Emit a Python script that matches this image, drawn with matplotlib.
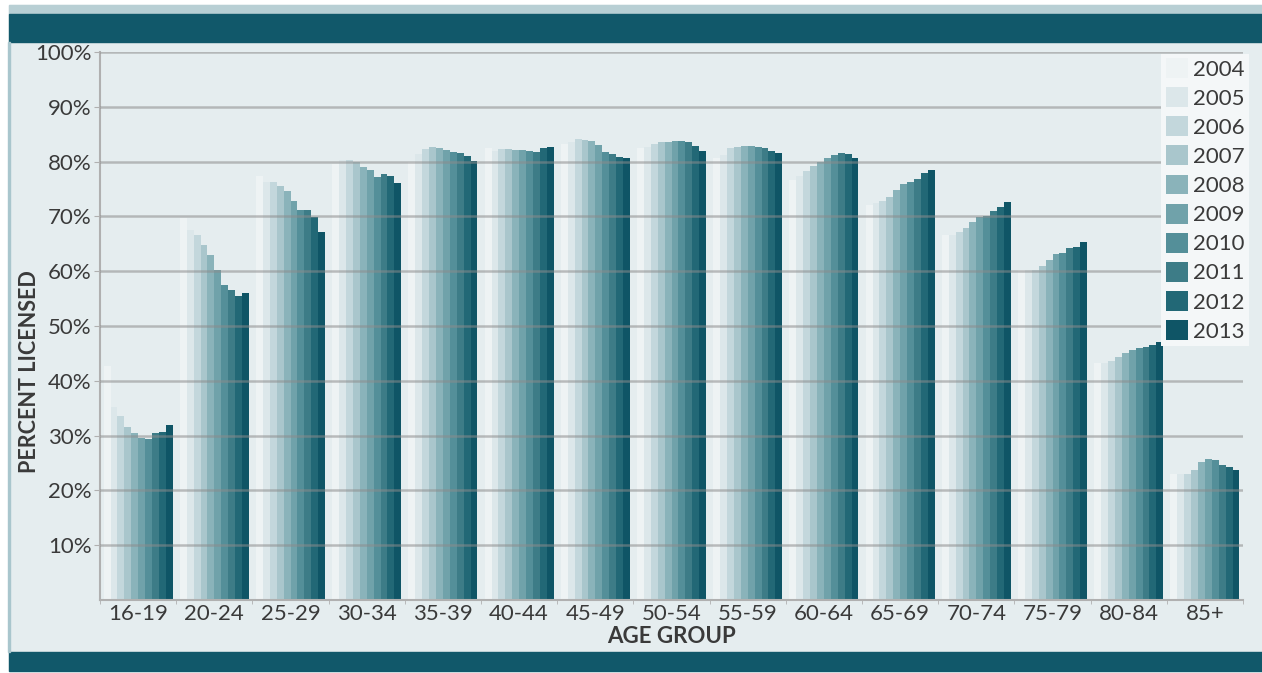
import numpy as np
import matplotlib.pyplot as plt
from matplotlib.patches import Rectangle

plt.rcParams['font.family'] = ['Lato', 'DejaVu Sans']

# data: percent licensed by age group, one list per year
age_groups = ['16-19', '20-24', '25-29', '30-34', '35-39', '40-44', '45-49', '50-54',
              '55-59', '60-64', '65-69', '70-74', '75-79', '80-84', '85+']
years = ['2004', '2005', '2006', '2007', '2008', '2009', '2010', '2011', '2012', '2013']

# rows = age groups, columns = years 2004..2013
g16_19 = [42.7, 35.2, 33.6, 31.6, 30.5, 29.6, 29.4, 30.5, 30.7, 31.9]
g20_24 = [69.7, 67.5, 66.6, 64.8, 63.0, 60.2, 57.5, 56.5, 55.5, 56.0]
g25_29 = [77.3, 76.2, 76.2, 75.6, 74.6, 72.9, 71.2, 71.2, 69.9, 67.1]
g30_34 = [79.5, 80.3, 80.3, 79.9, 79.1, 78.4, 77.2, 77.7, 77.3, 76.1]
g35_39 = [80.0, 81.3, 82.3, 82.6, 82.5, 82.2, 81.8, 81.6, 81.0, 80.2]
g40_44 = [82.5, 82.0, 82.3, 82.3, 82.2, 82.1, 82.0, 81.8, 82.5, 82.6]
g45_49 = [83.2, 83.6, 84.1, 84.0, 83.8, 83.0, 81.7, 81.3, 80.9, 80.7]
g50_54 = [82.4, 82.7, 83.2, 83.5, 83.6, 83.7, 83.7, 83.5, 82.9, 82.0]
g55_59 = [80.6, 81.2, 82.4, 82.7, 82.8, 82.8, 82.6, 82.4, 82.0, 81.5]
g60_64 = [76.6, 77.3, 78.2, 79.2, 80.0, 80.6, 81.2, 81.5, 81.4, 80.6]
g65_69 = [72.1, 72.4, 72.9, 73.6, 74.8, 76.0, 76.3, 76.9, 77.9, 78.5]
g70_74 = [66.6, 66.6, 67.2, 67.8, 68.9, 69.8, 70.1, 70.9, 71.7, 72.7]
g75_79 = [60.2, 60.2, 60.3, 61.0, 62.0, 63.2, 63.3, 64.2, 64.5, 65.3]
g80_84 = [43.2, 43.2, 43.7, 44.4, 45.0, 45.7, 45.9, 46.2, 46.5, 47.0]
g85_up = [23.0, 23.0, 23.0, 23.8, 25.1, 25.7, 25.6, 24.6, 24.2, 23.7]

values = np.array([g16_19, g20_24, g25_29, g30_34, g35_39, g40_44, g45_49, g50_54,
                   g55_59, g60_64, g65_69, g70_74, g75_79, g80_84, g85_up])

colors = ['#eef3f4', '#dce7ea', '#c3d7dc', '#a9c6cc', '#8ab3ba',
          '#70a2aa', '#548f99', '#3d7c87', '#226876', '#0f5566']
txt = '#3a3a3a'

W, H = 1262, 673
fig = plt.figure(figsize=(W / 100, H / 100), dpi=100)
fig.patch.set_facecolor('white')

def fig_rect(x0, y0, x1, y1, color):
    # pixel box -> figure fraction
    fig.patches.append(Rectangle((x0 / W, 1 - y1 / H), (x1 - x0) / W, (y1 - y0) / H,
                                 transform=fig.transFigure, color=color, zorder=-1))

fig_rect(9, 5, 1262, 671, '#e5edef')
fig_rect(9, 5, 1262, 14, '#b8cfd4')
fig_rect(9, 14, 1262, 42, '#11586a')
fig_rect(9, 652, 1262, 671, '#11586a')
fig_rect(8, 42, 10, 652, '#a9c6cd')

ax = fig.add_axes([100 / W, 1 - 600 / H, (1243 - 100) / W, (600 - 52) / H])
ax.set_facecolor('none')
ax.set_zorder(2)

x = np.arange(len(age_groups))
bw = 0.0905
for i, yr in enumerate(years):
    ax.bar(x - 0.5 + 0.048 + bw * (i + 0.5), values[:, i], width=bw, color=colors[i],
           label=yr, linewidth=0, zorder=2)

ax.set_xlim(-0.5, len(age_groups) - 0.5)
ax.set_ylim(0, 100)
ax.set_yticks(range(10, 101, 10))
ax.set_yticklabels([f'{v}%' for v in range(10, 101, 10)])
ax.yaxis.grid(True, color='#8c8c8c', linewidth=1.8, alpha=0.55, zorder=3)
ax.set_axisbelow(False)

ax.set_xticks(x)
ax.set_xticklabels(age_groups)
ax.set_xticks(np.arange(-0.5, len(age_groups)), minor=True)
ax.tick_params(axis='x', which='major', length=0, pad=3, labelsize=16, colors=txt)
ax.tick_params(axis='x', which='minor', length=3, color='#b0b0b0')
ax.tick_params(axis='y', length=4, color='#b0b0b0', labelsize=16, labelcolor=txt, pad=2)

for s in ['top', 'right']:
    ax.spines[s].set_visible(False)
for s in ['left', 'bottom']:
    ax.spines[s].set_color('#b0b0b0')
    ax.spines[s].set_linewidth(1.5)

ax.set_xlabel('AGE GROUP', fontsize=16, fontweight='bold', color=txt, labelpad=1)
fig.text(30 / W, 1 - 372 / H, 'PERCENT LICENSED', rotation=90, ha='center', va='center',
         fontsize=15.5, fontweight='bold', color=txt)

leg = ax.legend(loc='upper right', bbox_to_anchor=(1.005, 0.997), frameon=True, fancybox=False,
                fontsize=16, handlelength=1.0, handleheight=1.0, handletextpad=0.22,
                labelspacing=0.34, borderpad=0.2, borderaxespad=0.0)
leg.get_frame().set_facecolor('#f4f7f8')
leg.get_frame().set_edgecolor('none')
leg.get_frame().set_alpha(1)
leg.set_zorder(5)
for t in leg.get_texts():
    t.set_color(txt)

fig.savefig('out.png', dpi=100)
